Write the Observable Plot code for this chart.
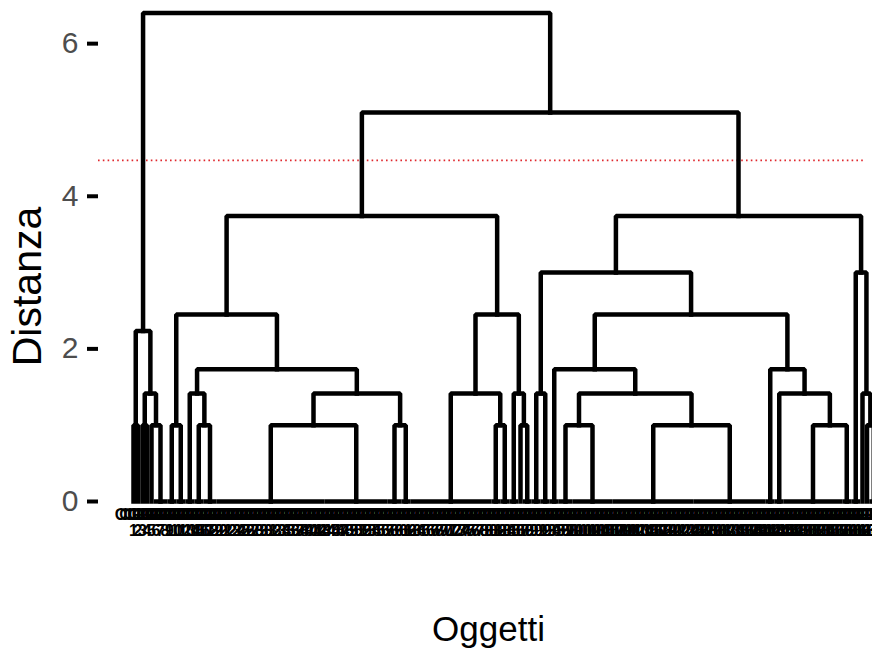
<!DOCTYPE html>
<html><head><meta charset="utf-8">
<script src="https://cdn.jsdelivr.net/npm/d3@7"></script>
<script src="https://cdn.jsdelivr.net/npm/@observablehq/plot@0.6"></script>
<style>body{margin:0;background:#fff;} #chart svg{display:block}</style>
</head><body><div id="chart"></div>
<script>
// Leaf groups (identical objects joined at height 0), in dendrogram order
const groupSizes = [1,1,1,1,1,3, 2,2,2,2,3, 24,14,3,2, 18,2,2, 2,1,2, 2,2, 2,3,9,18,16, 2,2,13,2, 2,1,1,2];
// hclust-style merge table: negative = leaf group, positive = earlier merge row
const merges = [
  [-1,-2],[-3,-4],[-5,-6],[-7,-8],[-10,-11],[-12,-13],[-14,-15],[-17,-18],[-20,-21],
  [-25,-26],[-27,-28],[-31,-32],[-35,-36],
  [2,3],[-9,5],[6,7],[-16,8],[-19,9],[-22,-23],[10,11],[-30,12],[-34,13],
  [15,16],[-24,20],[-29,21],
  [1,14],
  [4,23],[17,18],[24,25],
  [19,29],[-33,22],
  [27,28],[30,31],
  [32,33],
  [26,34]
];
const mergeHeights = [
  1,1,1,1,1,1,1,1,1,1,1,1,1,
  1.414,1.414,1.414,1.414,1.414,1.414,1.414,1.414,1.414,
  1.732,1.732,1.732,
  2.236,
  2.449,2.449,2.449,
  3.0,3.0,
  3.742,3.742,
  5.099,
  6.403
];
const leafLabels = [1,2,3,4,5,6,7,8,9,10,11,12,13,14,15,16,17,18,19,20,21,22,23,24,25,26,27,28,29,30,
31,32,33,34,35,36,37,38,39,40,41,42,43,44,45,46,47,48,49,50,51,52,53,54,55,56,57,58,59,60,
61,62,63,64,65,66,67,68,69,70,71,72,73,74,75,76,77,78,79,80,81,82,83,84,85,86,87,88,89,90,
91,92,93,94,95,96,97,98,99,100,101,102,103,104,105,106,107,108,109,110,111,112,113,114,115,116,117,118,119,120,
121,122,123,124,125,126,127,128,129,130,131,132,133,134,135,136,137,138,139,140,141,142,143,144,145,146,147,148,149,150,
151,152,153,154,155,156,157,158,159,160,161,162,163,164,165,166];
const yTicks = [0,2,4,6];
const cutHeight = 4.47;
const yTitle = "Distanza";
const xTitle = "Oggetti";

// layout: leaf positions in leaf-index units
const groupStart = [], groupX = [];
let n = 0;
groupSizes.forEach(k => { groupStart.push(n); groupX.push(n + (k - 1) / 2); n += k; });
const nodeX = [];
const pts = [];
function child(c) {
  return c < 0 ? {x: groupX[-c - 1], h: 0} : {x: nodeX[c - 1], h: mergeHeights[c - 1]};
}
merges.forEach(([a, b], i) => {
  const A = child(a), B = child(b), h = mergeHeights[i], id = "m" + i;
  nodeX.push((A.x + B.x) / 2);
  pts.push({id, x: A.x, y: A.h}, {id, x: A.x, y: h}, {id, x: B.x, y: h}, {id, x: B.x, y: B.h});
});
groupSizes.forEach((k, i) => {
  if (k > 1) pts.push({id: "g" + i, x: groupStart[i], y: 0}, {id: "g" + i, x: groupStart[i] + k - 1, y: 0});
});
const leaves = leafLabels.map((l, i) => ({i, label: "OGG\n" + l}));

const font = "'Liberation Sans', Arial, Helvetica, sans-serif";
const chart = Plot.plot({
  width: 872, height: 655,
  marginLeft: 98, marginRight: 7, marginTop: 5, marginBottom: 154,
  style: {fontFamily: font, background: "white"},
  x: {domain: [-7.778, 162.667], axis: null},
  y: {domain: [0, 6.5], axis: null},
  marks: [
    Plot.ruleY([cutHeight], {stroke: "#e0282e", strokeWidth: 1.6, strokeDasharray: "1.6,3.2"}),
    Plot.line(pts, {x: "x", y: "y", z: "id", stroke: "black", strokeWidth: 4.5,
      strokeLinejoin: "miter", strokeLinecap: "square"}),
    Plot.axisY(yTicks, {tickSize: 11, tickPadding: 9, strokeWidth: 4, stroke: "black",
      fill: "#4d4d4d", fontSize: 30, label: null, tickFormat: d => String(d)}),
    Plot.text(leaves, {x: "i", y: 0, text: "label", dy: 7, lineAnchor: "top",
      fontSize: 16, fontWeight: "bold", lineHeight: 1.0, fill: "black"}),
    Plot.text([yTitle], {frameAnchor: "left", textAnchor: "middle", rotate: -90, dx: -71, dy: 33, fontSize: 41, fill: "black"}),
    Plot.text([xTitle], {frameAnchor: "bottom", textAnchor: "middle", lineAnchor: "middle", dx: 6.5, dy: 128, fontSize: 35, fill: "black"})
  ]
});
document.getElementById("chart").appendChild(chart);
</script>
</body></html>
